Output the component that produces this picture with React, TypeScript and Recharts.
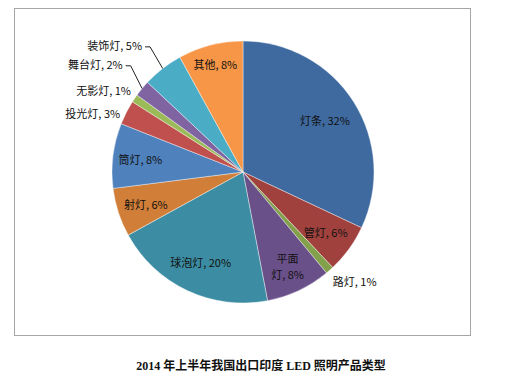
import { PieChart, Pie, Cell } from 'recharts'

const categories = ['灯条', '管灯', '路灯', '平面灯', '球泡灯', '射灯', '筒灯', '投光灯', '无影灯', '舞台灯', '装饰灯', '其他']
const shares = [32, 6, 1, 8, 20, 6, 8, 3, 1, 2, 5, 8]
const title = '2014 年上半年我国出口印度 LED 照明产品类型'

const COLORS = ['#3F6A9F', '#A0413E', '#83A04A', '#6A5089', '#3C8DA3', '#D17F38', '#4F81BD', '#C0504D', '#9BBB59', '#8064A2', '#4BACC6', '#F79646']

// label placement per slice (radius factor of outerRadius)
type LabelOpt = { r: number; anchor?: 'start' | 'end'; line?: boolean; da?: number; wrap?: boolean }
const LABEL_OPTS: LabelOpt[] = [
  { r: 0.74 },
  { r: 0.78 },
  { r: 1.08, anchor: 'start', da: -2 },
  { r: 0.8, wrap: true },
  { r: 0.76 },
  { r: 0.78 },
  { r: 0.79 },
  { r: 1.04, anchor: 'end', da: 1.4 },
  { r: 1.06, anchor: 'end', da: -2 },
  { r: 1.18, anchor: 'end', line: true, da: -3.8 },
  { r: 1.19, anchor: 'end', line: true, da: -1.2 },
  { r: 0.85 },
]

const data = categories.map((name, i) => ({ name, value: shares[i] }))
const RAD = Math.PI / 180
const FONT = '"Noto Sans CJK SC", "Noto Sans", sans-serif'

function renderLabel(p: any) {
  const { cx, cy, midAngle, outerRadius, index, name, value } = p
  const opt = LABEL_OPTS[index]
  const pt = (r: number, a: number) => ({ x: cx + r * Math.cos(-a * RAD), y: cy + r * Math.sin(-a * RAD) })
  const text = `${name}, ${value}%`
  const common = { fontSize: 11, fontFamily: FONT, fill: '#111' }

  if (opt.line) {
    const s = pt(outerRadius, midAngle)
    const e = pt(outerRadius * opt.r, midAngle + (opt.da || 0))
    return (
      <g key={`l-${index}`}>
        <polyline points={`${s.x},${s.y} ${e.x},${e.y} ${e.x - 5},${e.y}`} fill="none" stroke="#222" strokeWidth={1} />
        <text x={e.x - 8} y={e.y - 2} textAnchor="end" dominantBaseline="central" {...common}>{text}</text>
      </g>
    )
  }
  const c = pt(outerRadius * opt.r, midAngle + (opt.da || 0))
  if (opt.wrap) {
    return (
      <text key={`l-${index}`} x={c.x} y={c.y} textAnchor="middle" {...common}>
        <tspan x={c.x} dy={-4}>{name.slice(0, 2)}</tspan>
        <tspan x={c.x} dy={16}>{`${name.slice(2)}, ${value}%`}</tspan>
      </text>
    )
  }
  return (
    <text key={`l-${index}`} x={c.x} y={c.y} textAnchor={opt.anchor || 'middle'} dominantBaseline="central" {...common}>
      {text}
    </text>
  )
}

export default function App() {
  return (
    <div style={{ position: 'absolute', left: 0, top: 0, width: 511, height: 381, background: '#fff' }}>
      <div style={{ position: 'absolute', left: 14, top: 8, width: 457, height: 328, border: '1px solid #A6A6A6', boxSizing: 'border-box' }} />
      <div style={{ position: 'absolute', left: 0, top: 0 }}>
        <PieChart width={511} height={340} margin={{ top: 0, right: 0, bottom: 0, left: 0 }}>
          <Pie
            data={data}
            dataKey="value"
            nameKey="name"
            cx={243}
            cy={172}
            outerRadius={131}
            startAngle={90}
            endAngle={-270}
            label={renderLabel}
            labelLine={false}
            stroke="#ffffff"
            strokeWidth={0.4}
            isAnimationActive={false}
          >
            {data.map((_, i) => (
              <Cell key={i} fill={COLORS[i % COLORS.length]} />
            ))}
          </Pie>
        </PieChart>
      </div>
      <div
        style={{
          position: 'absolute',
          left: 0,
          width: 522,
          top: 356,
          textAlign: 'center',
          fontSize: 12,
          fontWeight: 'bold',
          fontFamily: '"Liberation Serif", "Noto Sans CJK SC", serif',
          color: '#111',
        }}
      >
        {title}
      </div>
    </div>
  )
}
